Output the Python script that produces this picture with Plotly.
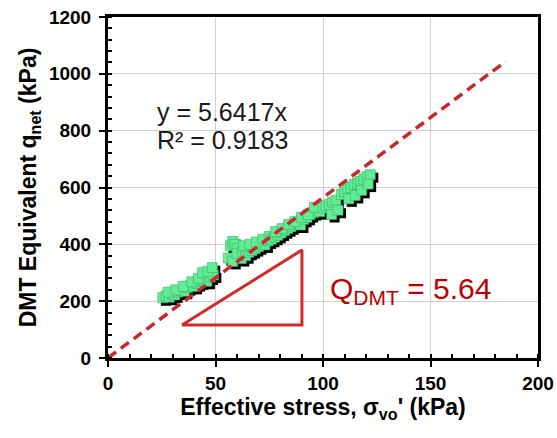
import plotly.graph_objects as go

# ---- data ----
stress = [25.5, 27, 28.5, 30, 31, 32.5, 34, 35.5, 37, 38.5, 40, 41.5, 43, 44.5, 46, 47.5, 49,
          28, 31.5, 35, 39, 42, 44, 46.5, 48.5,
          56, 57, 58, 59, 60, 61, 62, 58, 60, 62.5, 64, 65.5, 67, 68.5, 70, 71.5, 73, 74.5,
          63, 66, 69, 72, 75,
          76, 77.5, 79, 80.5, 82, 83.5, 85, 86.5, 88, 89.5, 91, 92.5, 94, 95.5, 97, 98.5,
          78, 81, 84, 87, 90, 93, 96,
          100, 101.5, 103, 104.5, 106, 104, 107,
          108.5, 110, 111.5, 113, 114.5, 116, 117.5, 119, 120.5, 122, 112, 115, 118, 121]
qnet = [212, 218, 214, 225, 222, 232, 238, 235, 248, 255, 252, 262, 268, 272, 270, 285, 292,
        232, 240, 252, 268, 280, 300, 305, 318,
        352, 395, 410, 400, 385, 360, 350, 340, 368, 375, 360, 372, 378, 385, 392, 400, 398, 412,
        395, 400, 408, 418, 428,
        418, 425, 432, 440, 448, 455, 462, 470, 475, 468, 488, 495, 505, 512, 520, 515,
        445, 455, 470, 480, 495, 505, 530,
        528, 535, 540, 548, 555, 505, 520,
        575, 585, 595, 600, 610, 615, 622, 630, 638, 645, 560, 572, 590, 612]

slope = 5.6417
fit_x = [0, 185]
tri_x = [34.4, 90.2, 90.2, 34.4]
tri_y = [116, 116, 380, 116]

x_range = [0, 200]
y_range = [0, 1200]

px_x = (x_range[1] - x_range[0]) / 430.0
px_y = (y_range[1] - y_range[0]) / 341.0

fig = go.Figure()

# triangle
fig.add_trace(go.Scatter(x=tri_x, y=tri_y, mode="lines",
                         line=dict(color="#D42A2A", width=3),
                         showlegend=False))
# shadow markers (overlay axes shifted a few pixels right/down)
fig.add_trace(go.Scatter(x=stress, y=qnet, mode="markers", xaxis="x2", yaxis="y2",
                         marker=dict(symbol="square", size=10, color="black",
                                     line=dict(width=0)),
                         showlegend=False, hoverinfo="skip"))
# green markers (overlay axes with identical range, drawn above shadow)
fig.add_trace(go.Scatter(x=stress, y=qnet, mode="markers", xaxis="x3", yaxis="y3",
                         marker=dict(symbol="square", size=10, color="#62EC96",
                                     line=dict(width=0.6, color="#36b265")),
                         showlegend=False))
# trend line on top so dashes show over markers
fig.add_trace(go.Scatter(x=fit_x, y=[slope * v for v in fit_x], mode="lines",
                         xaxis="x3", yaxis="y3",
                         line=dict(color="#C8282D", width=3.5, dash="10px,6px"),
                         showlegend=False))

tick_font = dict(family="Arial, Liberation Sans", size=19, color="black", weight="bold")
title_font = dict(family="Arial, Liberation Sans", size=23, color="black", weight="bold")

fig.update_layout(
    width=557, height=438,
    margin=dict(l=108, r=19, t=17, b=80, autoexpand=False),
    paper_bgcolor="white", plot_bgcolor="white",
    xaxis=dict(range=x_range, dtick=50, tick0=0, showgrid=True, gridcolor="#cfcfcf", gridwidth=1,
               showline=True, linecolor="black", linewidth=3, mirror=True,
               ticks="outside", ticklen=6, tickwidth=2, tickcolor="black",
               minor=dict(dtick=10, ticks="inside", ticklen=4, tickwidth=2, tickcolor="black"),
               tickfont=tick_font, automargin=False,
               title=dict(text="Effective stress, σ<sub>vo</sub>' (kPa)",
                          font=title_font, standoff=6),
               zeroline=False),
    yaxis=dict(range=y_range, dtick=200, tick0=0, showgrid=True, gridcolor="#cfcfcf", gridwidth=1,
               showline=True, linecolor="black", linewidth=3, mirror=True,
               ticks="outside", ticklen=6, tickwidth=2, tickcolor="black",
               minor=dict(dtick=40, ticks="inside", ticklen=4, tickwidth=2, tickcolor="black"),
               tickfont=tick_font, ticklabelstandoff=4, automargin=False,
               title=dict(text="DMT Equivalent q<sub>net</sub> (kPa)",
                          font=title_font, standoff=6),
               zeroline=False),
    xaxis2=dict(range=[x_range[0] - 3 * px_x, x_range[1] - 3 * px_x], overlaying="x",
                visible=False),
    yaxis2=dict(range=[y_range[0] + 3 * px_y, y_range[1] + 3 * px_y], overlaying="y",
                visible=False),
    xaxis3=dict(range=x_range, overlaying="x", visible=False),
    yaxis3=dict(range=y_range, overlaying="y", visible=False),
    font=dict(family="Arial, Liberation Sans"),
)

fig.add_annotation(x=21.9, y=866, xref="x", yref="y", text="y = 5.6417x",
                   showarrow=False, xanchor="left", yanchor="middle",
                   font=dict(family="Arial, Liberation Sans", size=25, color="#1a1a1a"))
fig.add_annotation(x=21.9, y=768, xref="x", yref="y", text="R² = 0.9183",
                   showarrow=False, xanchor="left", yanchor="middle",
                   font=dict(family="Arial, Liberation Sans", size=25, color="#1a1a1a"))
fig.add_annotation(x=102.3, y=239, xref="x", yref="y", text="Q<sub>DMT</sub> = 5.64",
                   showarrow=False, xanchor="left", yanchor="middle",
                   font=dict(family="Arial, Liberation Sans", size=30, color="#C00000"))

fig.write_html("out.html")
